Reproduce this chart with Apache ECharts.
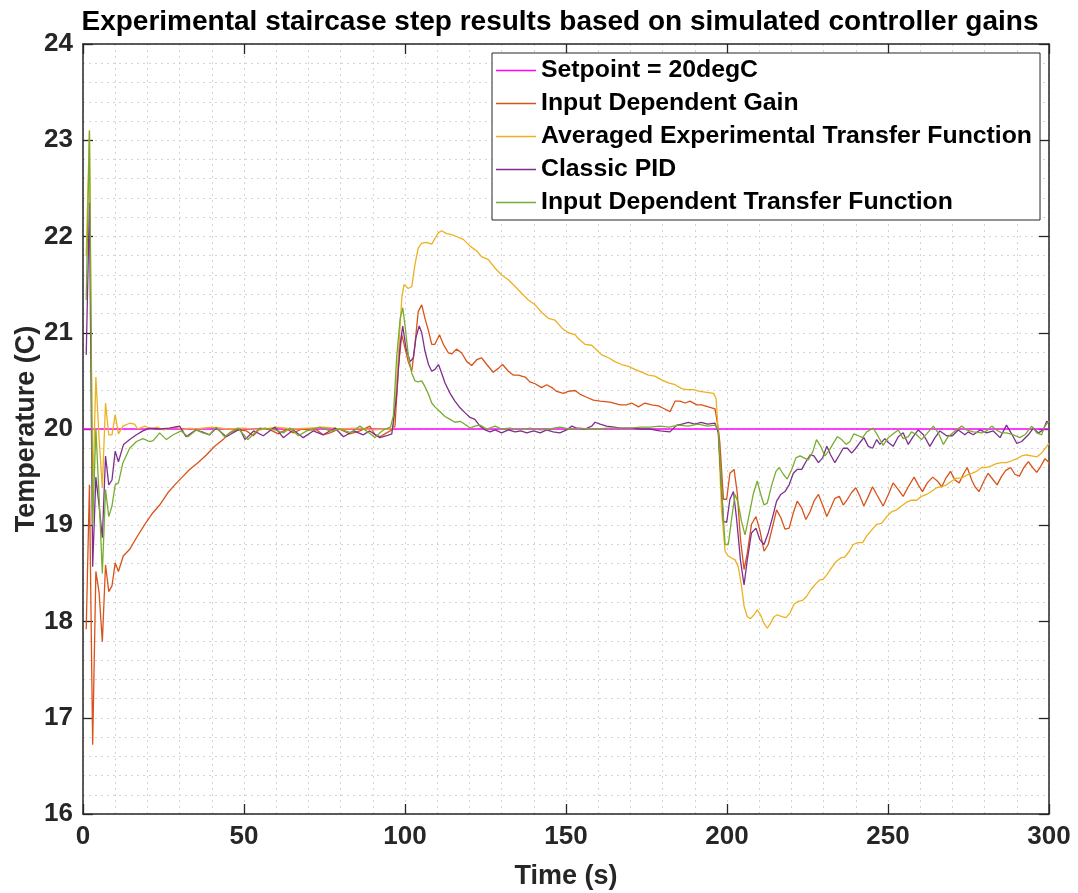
<!DOCTYPE html>
<html>
<head>
<meta charset="utf-8">
<title>Experimental staircase step results</title>
<script src="https://cdn.jsdelivr.net/npm/echarts@6/dist/echarts.min.js"></script>
<style>
  html, body { margin: 0; padding: 0; background: #ffffff; }
  #chart { width: 1078px; height: 893px; }
</style>
</head>
<body>
<div id="chart"></div>
<script>
// Temperature responses [time (s), temperature (degC)] for each controller design
const setpointData = [[0, 20], [300, 20]];

const gainData = [
  [1,17.92],[2,19.42],[3,16.72],[4,18.52],[5,18.30],[6,17.79],[7,18.59],[8,18.31],[9,18.37],[10,18.61],
  [11,18.52],[12.5,18.68],[14.5,18.75],[16.6,18.87],[19.2,19.01],[21.7,19.13],[23.8,19.21],[26.4,19.34],
  [28.5,19.42],[30.5,19.49],[33.1,19.58],[35.7,19.65],[38.3,19.73],[40.9,19.82],[43.5,19.89],[45.5,19.96],
  [48.1,19.99],[50.8,19.98],[52.9,19.93],[55,20.01],[58.1,19.99],[60.7,19.95],[63.3,20.0],[65.3,19.96],
  [68,20.0],[70.5,19.99],[72.6,19.99],[74.6,19.94],[76.7,19.96],[79.5,20.0],[82.9,19.95],[86,19.98],
  [89.1,20.03],[90.7,19.94],[92.2,19.92],[94.3,19.96],[95.9,19.99],[96.9,20.03],[97.9,20.63],[99,20.98],
  [100,20.84],[101,20.70],[102.1,20.6],[103.1,20.88],[104.1,21.22],[105.2,21.29],[106.2,21.15],[107.3,21.02],
  [108.3,20.88],[109.3,20.88],[110.7,20.98],[111.9,20.88],[113.5,20.79],[114.5,20.78],[116,20.83],[117.6,20.79],
  [119.2,20.70],[120.7,20.66],[122.3,20.72],[123.8,20.74],[125.4,20.67],[127.4,20.59],[129,20.63],[130.3,20.67],
  [132.1,20.60],[133.6,20.56],[135.2,20.56],[137.3,20.54],[138.8,20.49],[140.4,20.47],[142.4,20.43],[144,20.46],
  [145.6,20.43],[147.1,20.39],[149.2,20.37],[150.7,20.39],[152.8,20.40],[154.4,20.36],[156.4,20.33],[158.5,20.30],
  [160.6,20.29],[163.7,20.28],[166.8,20.25],[168.8,20.25],[170.4,20.27],[172.5,20.23],[174.5,20.27],[176.6,20.25],
  [178.7,20.24],[180.5,20.21],[182.3,20.18],[183.9,20.29],[185.4,20.29],[187,20.27],[188.5,20.29],[190.6,20.25],
  [192.1,20.25],[194.2,20.23],[196.3,20.21],[197.3,20.0],[197.8,19.85],[198.9,19.27],[199.9,19.27],[200.9,19.54],
  [202.2,19.58],[203.2,19.33],[204.2,18.85],[205.3,18.54],[206.3,18.71],[207.6,19.01],[209,19.09],[210.2,18.95],
  [211.5,18.73],[212.8,18.80],[214.2,18.99],[215.4,19.16],[216.7,19.08],[218,18.96],[219.3,18.97],[220.6,19.13],
  [221.8,19.25],[223.2,19.18],[224.5,19.06],[225.8,19.14],[227,19.25],[228.4,19.32],[229.7,19.21],[231,19.09],
  [232.2,19.18],[233.5,19.28],[234.9,19.30],[236.1,19.21],[237.4,19.27],[238.7,19.34],[240,19.39],[241.3,19.30],
  [242.5,19.20],[243.9,19.30],[245.2,19.40],[246.5,19.32],[248.5,19.20],[250.1,19.32],[251.6,19.44],[253.2,19.37],
  [254.7,19.30],[256.3,19.40],[258.1,19.50],[259.4,19.42],[260.7,19.35],[262.2,19.44],[263.9,19.50],[265.3,19.46],
  [266.7,19.40],[268,19.49],[269.4,19.56],[270.8,19.47],[272.1,19.44],[273.4,19.53],[274.6,19.60],[276,19.47],
  [277,19.40],[278.3,19.35],[279.8,19.46],[281.1,19.54],[282.7,19.47],[283.9,19.42],[285.3,19.51],[286.6,19.57],
  [288.1,19.60],[289.4,19.53],[290.8,19.51],[292.2,19.60],[293.6,19.66],[294.9,19.60],[296.2,19.55],[297.4,19.61],
  [298.7,19.69],[299.8,19.66],[300,19.63]
];

const avgData = [
  [1,21.8],[2,23.1],[3,19.3],[4,20.54],[5,19.9],[6,19.39],[7,20.27],[8,19.94],[9,19.94],[10,20.15],
  [11,19.95],[12.4,20.03],[14.5,20.06],[16,20.05],[17,20.0],[19.2,20.03],[21,20.0],[23,20.02],[25,19.99],
  [27,20.01],[29,20.02],[31,19.99],[33,20.01],[35,20.0],[40,20.02],[45,20.0],[50,20.01],[55,19.99],
  [60,20.02],[65,20.0],[70,20.01],[75,20.02],[80,20.0],[85,20.01],[90,19.99],[94,20.0],[95.5,20.0],
  [96.4,20.01],[97.9,20.74],[99,21.36],[99.7,21.50],[100.3,21.52],[101,21.46],[102.1,21.48],[103.1,21.71],
  [104.1,21.88],[105.2,21.93],[106.7,21.94],[108.3,21.92],[109.3,21.98],[110.4,22.04],[111.4,22.06],[112.9,22.03],
  [114.5,22.02],[116,22.0],[118.1,21.97],[120.2,21.90],[122.3,21.85],[123.8,21.79],[125.9,21.76],[128,21.67],
  [130,21.60],[132.1,21.55],[134.2,21.48],[136.2,21.41],[138.3,21.34],[140.4,21.29],[142.5,21.21],[144.5,21.15],
  [146.6,21.13],[148.7,21.05],[150.7,21.0],[152.8,20.98],[153.8,20.94],[155.9,20.88],[158,20.87],[159.5,20.82],
  [161.1,20.77],[163.2,20.74],[165.2,20.70],[167.3,20.67],[169.4,20.65],[171.4,20.62],[173.5,20.59],[175.6,20.56],
  [177.6,20.55],[179.7,20.51],[181.8,20.48],[183.9,20.46],[185.9,20.42],[187.5,20.41],[189.5,20.41],[191.6,20.39],
  [193.7,20.38],[195.8,20.37],[196.6,20.32],[197.3,19.96],[198.3,19.16],[199.4,18.73],[200.4,18.68],[201.4,18.66],
  [202.5,18.64],[203.5,18.57],[204.5,18.37],[205.3,18.16],[206.3,18.05],[207.3,18.03],[208.4,18.07],[209.4,18.12],
  [210.4,18.07],[211.5,17.98],[212.5,17.93],[213.5,17.98],[214.6,18.05],[215.6,18.07],[217,18.05],[218.3,18.04],
  [219.6,18.09],[220.8,18.18],[222.1,18.21],[223.5,18.22],[224.7,18.26],[226,18.33],[227.3,18.38],[228.7,18.43],
  [229.9,18.44],[231.1,18.49],[232.5,18.56],[233.8,18.62],[235.3,18.66],[236.6,18.67],[238,18.73],[239.2,18.80],
  [240.8,18.82],[242.1,18.82],[243.4,18.89],[244.9,18.95],[246.5,19.01],[248,19.02],[249.6,19.09],[251.1,19.14],
  [252.7,19.16],[254.2,19.20],[255.8,19.24],[257.3,19.26],[258.9,19.26],[260.4,19.30],[262,19.32],[263.5,19.35],
  [265.1,19.39],[266.7,19.40],[268.2,19.42],[269.8,19.46],[271.3,19.49],[272.9,19.49],[274.4,19.52],[276,19.54],
  [277.5,19.56],[279.1,19.60],[280.6,19.60],[282.2,19.62],[283.7,19.64],[285.3,19.65],[286.8,19.65],[288.4,19.67],
  [289.9,19.69],[291.5,19.72],[293,19.73],[294.6,19.72],[296.2,19.71],[297.7,19.75],[299.3,19.82],[300,19.85]
];

const pidData = [
  [1,20.77],[2,22.35],[3,18.57],[4,19.5],[5,19.2],[6,18.87],[7,19.72],[8,19.42],[9,19.47],[10,19.77],
  [11,19.66],[12.6,19.84],[14.5,19.89],[16.6,19.94],[18.6,19.98],[20.7,20.01],[23.8,20.0],[26.9,20.01],
  [30,20.03],[32,19.92],[35,19.99],[37,19.97],[39.3,19.94],[41.4,20.01],[44.5,19.92],[48.7,20.0],[50.3,19.89],
  [53,19.98],[56,19.93],[59.6,20.02],[62.2,19.91],[65.3,19.99],[68.4,19.91],[71.5,19.98],[74.6,19.94],
  [78.3,20.01],[80.9,19.92],[84,19.98],[87.1,19.94],[89,19.98],[92.2,19.91],[94.3,19.93],[95.9,19.95],
  [97.4,20.35],[98.5,20.88],[99.3,21.07],[100.3,20.84],[101.6,20.70],[102.6,20.74],[103.4,20.95],[104.4,21.07],
  [105.2,21.0],[106.2,20.81],[107.3,20.67],[108.3,20.6],[109.3,20.62],[110.4,20.67],[111.4,20.58],[112.4,20.48],
  [114,20.37],[115.5,20.29],[117.1,20.22],[118.6,20.17],[120.2,20.12],[121.7,20.10],[123.3,20.03],[124.9,19.99],
  [126.4,19.97],[128,19.99],[130,19.96],[132.1,19.99],[134.2,19.97],[136,19.98],[137.8,19.96],[140,19.98],
  [142,19.96],[144,19.99],[146,19.97],[148.1,19.96],[150.2,19.99],[151.8,20.03],[153.3,20.01],[155.9,20.0],
  [158,20.03],[159,20.07],[160.6,20.05],[162.6,20.03],[165,20.02],[166.8,20.01],[170,20.01],[173,20.0],
  [176,20.0],[179.2,19.98],[182.3,19.97],[184.4,20.04],[186,20.05],[188,20.07],[190,20.05],[192,20.07],
  [194,20.05],[196.3,20.06],[197.3,19.96],[198.9,19.04],[199.9,19.03],[200.9,19.27],[202,19.35],[203,19.06],
  [204.2,18.63],[205.3,18.38],[206.3,18.64],[207.6,18.92],[209,18.97],[210.2,18.85],[211.5,18.80],[212.8,18.92],
  [214.2,19.09],[215.4,19.25],[216.7,19.32],[218,19.35],[219.3,19.42],[220.6,19.54],[221.8,19.58],[223.2,19.58],
  [224.5,19.66],[225.8,19.73],[227,19.72],[228.4,19.65],[229.7,19.70],[231,19.82],[232.2,19.73],[233.5,19.65],
  [234.9,19.73],[236.1,19.80],[237.4,19.80],[238.7,19.75],[240,19.80],[241.3,19.86],[242.5,19.91],[243.9,19.82],
  [245.2,19.80],[246.5,19.89],[247.5,19.84],[249,19.90],[250.1,19.86],[251.6,19.82],[253.2,19.92],[254.7,19.96],
  [256.3,19.84],[257.8,19.92],[259.4,19.99],[261,19.94],[263,19.82],[264.6,19.91],[266.1,19.98],[268.2,19.93],
  [270,19.93],[271.8,19.99],[273.9,19.94],[274.9,19.97],[276.5,19.94],[278.6,19.99],[280.6,19.96],[282.7,19.98],
  [284.8,19.91],[286.8,20.04],[288.4,19.95],[290,19.85],[291.5,19.87],[293.6,19.94],[295.1,20.01],[296.7,19.96],
  [298.2,19.99],[299.3,20.08],[300,20.06]
];

const idtfData = [
  [1,21.34],[2,23.1],[3,19.0],[4,20.0],[5,19.3],[6,18.5],[7,19.37],[8,19.09],[9,19.2],[10,19.42],
  [11,19.44],[12.4,19.65],[14.5,19.80],[16.6,19.87],[18.6,19.9],[20.7,19.87],[21.8,19.88],[23.8,19.96],
  [25.9,19.89],[28,19.94],[30.5,19.98],[32.6,19.92],[35.2,19.99],[37.2,19.96],[39.3,19.94],[41.4,20.02],
  [44,19.92],[46,19.97],[48.1,20.01],[51.2,19.89],[54.3,19.99],[56.5,20.01],[59.6,19.99],[62.2,19.96],
  [64.3,20.01],[66.9,19.93],[69.5,19.98],[73.6,20.02],[76.7,19.98],[79.8,20.0],[83.4,19.96],[86,20.03],
  [89.6,19.94],[90.7,19.91],[92.2,19.96],[93.8,20.0],[95.5,20.02],[96.4,20.14],[97.4,20.74],[98.5,21.15],
  [99.3,21.26],[100,21.08],[101,20.77],[102.1,20.58],[103.1,20.50],[104.1,20.49],[105.2,20.50],[106.2,20.44],
  [107.3,20.36],[108.3,20.27],[109.3,20.23],[110.9,20.18],[112.4,20.13],[114,20.10],[115.5,20.07],[117.1,20.08],
  [118.6,20.05],[120.2,20.01],[121.7,20.03],[123.3,20.04],[125.4,20.0],[128,20.03],[130,20.0],[132.6,20.01],
  [135.7,19.99],[138.8,20.01],[141.9,19.99],[145,20.0],[148,20.02],[151,20.0],[154,20.01],[157,20.0],
  [160,20.0],[163,20.01],[166.8,20.01],[170,20.01],[173,20.02],[176,20.02],[179.2,20.03],[182,20.02],
  [185,20.04],[188,20.03],[191,20.05],[194,20.03],[196.3,20.04],[197.3,19.99],[198.3,19.4],[199.4,18.80],
  [200.4,18.80],[201.4,19.06],[202.5,19.32],[203.5,19.23],[204.5,19.04],[205.6,18.90],[206.6,19.06],[208.2,19.33],
  [209.4,19.46],[210.4,19.33],[211.5,19.21],[212.5,19.23],[213.9,19.42],[215.2,19.56],[216.2,19.60],[217.5,19.53],
  [218.7,19.48],[220.1,19.58],[221.4,19.70],[222.7,19.72],[223.9,19.70],[225.2,19.68],[226.6,19.76],[227.8,19.89],
  [229.1,19.82],[230.4,19.72],[231.8,19.78],[233,19.85],[234.3,19.92],[235.6,19.89],[237,19.84],[238.2,19.87],
  [239.4,19.95],[240.8,19.93],[242.1,19.91],[243.4,19.97],[245.4,20.01],[247,19.92],[248.5,19.83],[250.1,19.91],
  [251.6,19.95],[253.2,19.99],[254.7,19.90],[256.3,19.92],[257.3,19.97],[258.9,19.94],[260.4,19.89],[262,19.95],
  [264.1,20.03],[265.6,19.96],[267.2,19.84],[268.7,19.92],[270.8,19.98],[272.9,20.03],[274.4,19.99],[276.5,19.97],
  [279.1,19.96],[280.6,19.98],[282.2,20.03],[283.7,19.99],[285.3,19.96],[286.8,19.96],[288.9,19.94],[290.9,19.91],
  [292.5,19.94],[294.6,20.03],[296.2,19.96],[297.7,19.94],[298.7,20.03],[300,20.08]
];

const seriesNames = [
  'Setpoint = 20degC',
  'Input Dependent Gain',
  'Averaged Experimental Transfer Function',
  'Classic PID',
  'Input Dependent Transfer Function'
];
const seriesColors = ['#FF00FF', '#D95319', '#EDB120', '#7E2F8E', '#77AC30'];
const seriesData = [setpointData, gainData, avgData, pidData, idtfData];

const FONT = '"Liberation Sans", Arial, Helvetica, sans-serif';
const AXIS_COLOR = '#262626';
const GRID_COLOR = '#d4d4d4';

const chart = echarts.init(document.getElementById('chart'), null, { renderer: 'canvas' });

// Mirror axes on top and right close the box and carry inward ticks
const boxAxis = (extra) => Object.assign({
  axisLine: { show: true, onZero: false, lineStyle: { color: AXIS_COLOR, width: 1.5 } },
  axisTick: { show: true, inside: true, length: 10, lineStyle: { color: AXIS_COLOR, width: 1.3 } },
  axisLabel: { show: false },
  splitLine: { show: false },
  minorTick: { show: false },
  minorSplitLine: { show: false }
}, extra);

const option = {
  backgroundColor: '#ffffff',
  animation: false,
  title: {
    text: 'Experimental staircase step results based on simulated controller gains',
    left: 555,
    textAlign: 'center',
    top: 3,
    textStyle: { fontFamily: FONT, fontWeight: 'bold', fontSize: 28, color: '#000000' }
  },
  legend: {
    orient: 'vertical',
    left: 492,
    top: 53,
    padding: [5, 8, 5, 4],
    itemGap: 8,
    itemWidth: 40,
    itemHeight: 1.5,
    icon: 'rect',
    backgroundColor: '#ffffff',
    borderColor: '#262626',
    borderWidth: 1,
    textStyle: { fontFamily: FONT, fontWeight: 'bold', fontSize: 24.8, color: '#000000' },
    data: seriesNames
  },
  grid: { left: 83, right: 29, top: 44, bottom: 79, containLabel: false, outerBoundsMode: 'none' },
  xAxis: [
    {
      type: 'value', min: 0, max: 300, interval: 50, position: 'bottom',
      name: 'Time (s)', nameLocation: 'middle', nameGap: 49, nameMoveOverlap: false,
      nameTextStyle: { fontFamily: FONT, fontWeight: 'bold', fontSize: 27, color: AXIS_COLOR },
      axisLine: { show: true, onZero: false, lineStyle: { color: AXIS_COLOR, width: 1.5 } },
      axisTick: { show: true, inside: true, length: 10, lineStyle: { color: AXIS_COLOR, width: 1.3 } },
      axisLabel: { margin: 10, fontFamily: FONT, fontWeight: 'bold', fontSize: 26, color: AXIS_COLOR },
      splitLine: { show: true, lineStyle: { color: GRID_COLOR, type: [2, 4], width: 1 } },
      minorTick: { show: false, splitNumber: 5 },
      minorSplitLine: { show: true, lineStyle: { color: GRID_COLOR, type: [2, 4], width: 1 } }
    },
    boxAxis({ type: 'value', min: 0, max: 300, interval: 50, position: 'top', gridIndex: 0 })
  ],
  yAxis: [
    {
      type: 'value', min: 16, max: 24, interval: 1, position: 'left',
      name: 'Temperature (C)', nameLocation: 'middle', nameGap: 43, nameMoveOverlap: false,
      nameTextStyle: { fontFamily: FONT, fontWeight: 'bold', fontSize: 27, color: AXIS_COLOR },
      axisLine: { show: true, onZero: false, lineStyle: { color: AXIS_COLOR, width: 1.5 } },
      axisTick: { show: true, inside: true, length: 10, lineStyle: { color: AXIS_COLOR, width: 1.3 } },
      axisLabel: { margin: 10, fontFamily: FONT, fontWeight: 'bold', fontSize: 26, color: AXIS_COLOR },
      splitLine: { show: true, lineStyle: { color: GRID_COLOR, type: [2, 4], width: 1 } },
      minorTick: { show: false, splitNumber: 5 },
      minorSplitLine: { show: true, lineStyle: { color: GRID_COLOR, type: [2, 4], width: 1 } }
    },
    boxAxis({ type: 'value', min: 16, max: 24, interval: 1, position: 'right', gridIndex: 0 })
  ],
  series: seriesNames.map((name, i) => ({
    name: name,
    type: 'line',
    xAxisIndex: 0,
    yAxisIndex: 0,
    data: seriesData[i],
    symbol: 'none',
    showSymbol: false,
    smooth: false,
    color: seriesColors[i],
    lineStyle: { color: seriesColors[i], width: 1.3 },
    emphasis: { disabled: true },
    z: 2 + i
  }))
};

chart.setOption(option);
</script>
</body>
</html>
